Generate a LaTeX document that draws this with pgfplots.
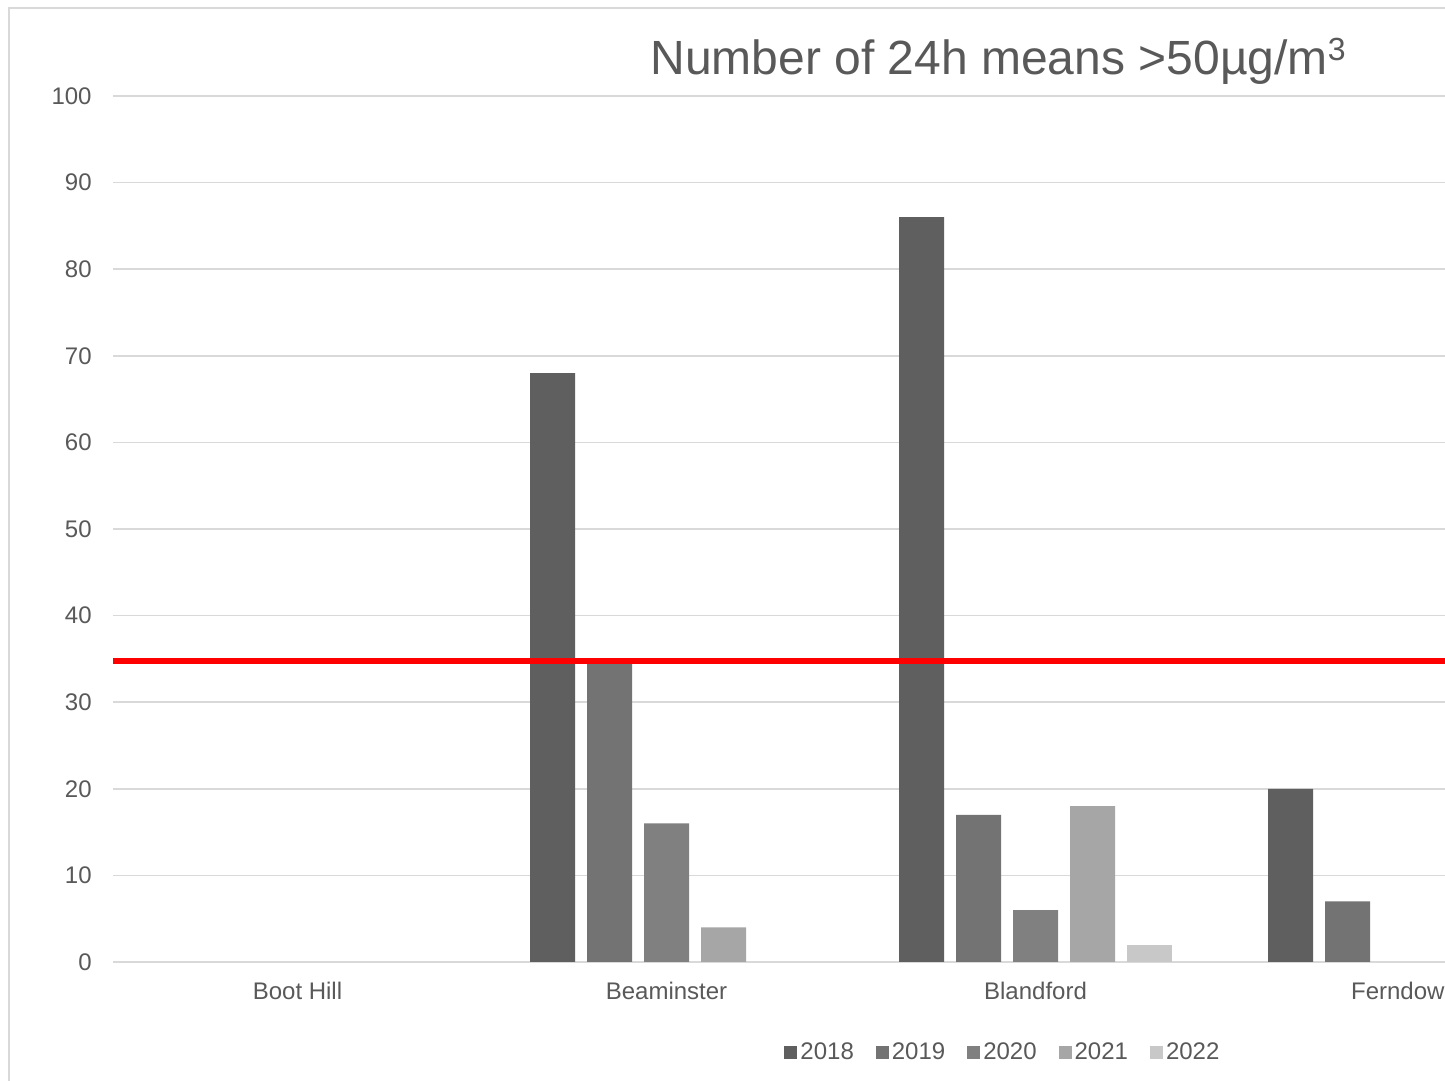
\documentclass[border=0pt]{standalone}
\usepackage{pgfplots}
\pgfplotsset{compat=1.18}
\usepackage{fontspec}
\setmainfont{Liberation Sans}
\definecolor{txt}{HTML}{595959}
\definecolor{gridc}{HTML}{D9D9D9}
\definecolor{c18}{HTML}{5F5F5F}
\definecolor{c19}{HTML}{737373}
\definecolor{c20}{HTML}{808080}
\definecolor{c21}{HTML}{A6A6A6}
\definecolor{c22}{HTML}{C8C8C8}
\begin{document}
\begin{tikzpicture}[x=0.5pt,y=0.5pt]
\clip (0,0) rectangle (1445,1081);
\fill[white] (0,0) rectangle (1445,1081);
\draw[color=gridc, line width=1pt] (8.5,-10) -- (8.5,1072.5) -- (1460,1072.5);
\begin{axis}[
  at={(56.5pt,59.5pt)}, anchor=south west,
  width=666.5pt, height=433pt, scale only axis,
  xmin=-0.5, xmax=3.1125, ymin=0, ymax=100,
  ybar=6pt, bar width=22.5pt,
  axis line style={draw=none},
  major tick length=0pt,
  ytick={0,10,...,100},
  ymajorgrids, grid style={color=gridc, line width=0.8pt},
  xtick={0,1,2,3},
  xticklabels={Boot Hill,Beaminster,Blandford,Ferndown},
  /pgf/number format/assume math mode=true,
  ticklabel style={font=\fontsize{12}{14}\selectfont, text=txt},
  yticklabel style={anchor=east, inner sep=0pt, xshift=-10.5pt},
  xticklabel style={anchor=north, inner sep=0pt, yshift=-10pt},
  legend style={at={(0.668,-0.1045)}, anchor=center, draw=none, fill=none,
    legend columns=5, font=\fontsize{12}{14}\selectfont, text=txt,
    nodes={inner sep=1.5pt},
    /tikz/every even column/.append style={column sep=9.5pt}},
  legend image code/.code={\fill[#1] (0pt,-3.25pt) rectangle (6.5pt,3.25pt);},
  clip=false,
]
\addplot[fill=c18, draw=none] coordinates {(1,68) (2,86) (3,20)};
\addplot[fill=c19, draw=none] coordinates {(1,35) (2,17) (3,7)};
\addplot[fill=c20, draw=none] coordinates {(1,16) (2,6)};
\addplot[fill=c21, draw=none] coordinates {(1,4) (2,18)};
\addplot[fill=c22, draw=none] coordinates {(2,2)};
\legend{2018,2019,2020,2021,2022}
\addplot[red, line width=3pt, sharp plot, forget plot, bar shift=0pt] coordinates {(-0.5,34.8) (3.1125,34.8)};
\end{axis}
\node[text=txt, font=\fontsize{24}{29}\selectfont, anchor=base] at (998,1006) {Number of 24h means >50µg/m\raisebox{7pt}{\fontsize{16}{18}\selectfont 3}};
\end{tikzpicture}
\end{document}
